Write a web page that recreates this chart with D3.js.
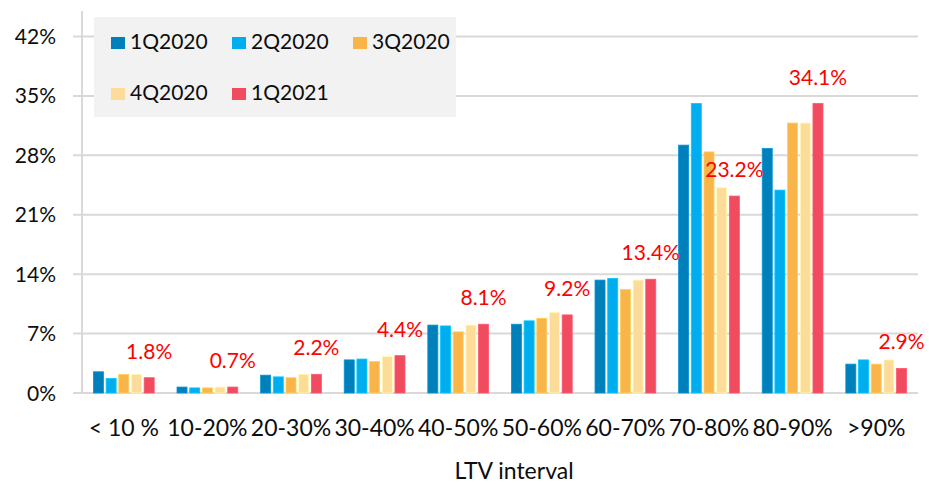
<!DOCTYPE html>
<html lang="en">
<head>
  <meta charset="UTF-8">
  <title>LTV interval</title>
  <script src="https://d3js.org/d3.v7.min.js"></script>
  <style>
    body { margin: 0; background: #ffffff; }
    svg { display: block; font-family: Lato, "Open Sans", sans-serif; }
    .grid line { stroke: #d9d9d9; stroke-width: 2; }
    .tick-label { font-size: 21px; fill: #0d0d0d; }
    .cat-label { font-size: 23px; fill: #0d0d0d; }
    .value-label { font-size: 21px; fill: #ff0000; }
    .legend-text { font-size: 21px; fill: #0d0d0d; }
  </style>
</head>
<body>
<svg width="929" height="484"></svg>

<script>
  const categories = ["< 10 %", "10-20%", "20-30%", "30-40%", "40-50%", "50-60%", "60-70%", "70-80%", "80-90%", ">90%"];
  const seriesNames = ["1Q2020", "2Q2020", "3Q2020", "4Q2020", "1Q2021"];
  const q1_2020 = [2.5, 0.7, 2.1, 3.9, 8.0, 8.1, 13.3, 29.2, 28.8, 3.4];
  const q2_2020 = [1.7, 0.6, 1.9, 4.0, 7.9, 8.5, 13.5, 34.1, 23.9, 3.9];
  const q3_2020 = [2.2, 0.6, 1.8, 3.7, 7.2, 8.8, 12.2, 28.4, 31.8, 3.4];
  const q4_2020 = [2.2, 0.7, 2.2, 4.3, 8.0, 9.5, 13.3, 24.2, 31.8, 3.9];
  const q1_2021 = [1.8, 0.7, 2.2, 4.4, 8.1, 9.2, 13.4, 23.2, 34.1, 2.9];
  const yTicks = [0, 7, 14, 21, 28, 35, 42];
  const colors = ["#0080bb", "#00aeef", "#f9b54a", "#fddb98", "#f04b5f"];

  const seriesValues = [q1_2020, q2_2020, q3_2020, q4_2020, q1_2021];

  const width = 929, height = 484;
  const margin = { top: 11, right: 11, bottom: 91, left: 82 };
  const innerW = width - margin.left - margin.right;
  const innerH = height - margin.top - margin.bottom;

  const svg = d3.select("svg");
  const g = svg.append("g").attr("transform", `translate(${margin.left},${margin.top})`);

  const x0 = d3.scaleBand().domain(categories).range([0, innerW]).padding(0);
  const x1 = d3.scaleBand().domain(seriesNames).range([0, x0.bandwidth()])
    .paddingInner(0.21).paddingOuter(0.9);
  const y = d3.scaleLinear().domain([0, 45]).range([innerH, 0]);

  // gridlines
  const grid = g.append("g").attr("class", "grid");
  grid.selectAll("line.h")
    .data(yTicks)
    .join("line")
    .attr("class", "h")
    .attr("x1", -9)
    .attr("x2", innerW)
    .attr("y1", d => y(d))
    .attr("y2", d => y(d));
  grid.append("line")
    .attr("x1", 0).attr("x2", 0)
    .attr("y1", 0).attr("y2", innerH);

  // y labels
  g.selectAll(".tick-label")
    .data(yTicks)
    .join("text")
    .attr("class", "tick-label")
    .attr("x", -26)
    .attr("y", d => y(d))
    .attr("dy", "0.36em")
    .attr("text-anchor", "end")
    .text(d => d + "%");

  // bars
  const groups = g.selectAll(".group")
    .data(categories)
    .join("g")
    .attr("class", "group")
    .attr("transform", d => `translate(${x0(d)},0)`);

  groups.selectAll("rect")
    .data((c, i) => seriesNames.map((s, j) => ({ s, j, v: seriesValues[j][i] })))
    .join("rect")
    .attr("x", d => x1(d.s))
    .attr("width", x1.bandwidth())
    .attr("y", d => y(d.v))
    .attr("height", d => y(0) - y(d.v))
    .attr("fill", d => colors[d.j])
    .attr("stroke", d => d3.color(colors[d.j]).brighter(0.4))
    .attr("stroke-width", 0.8);

  // value labels on latest quarter
  g.selectAll(".value-label")
    .data(categories)
    .join("text")
    .attr("class", "value-label")
    .attr("x", d => x0(d) + x1("1Q2021") + x1.bandwidth() / 2)
    .attr("y", (d, i) => y(q1_2021[i]) - 19)
    .attr("text-anchor", "middle")
    .text((d, i) => q1_2021[i].toFixed(1) + "%");

  // category labels
  g.selectAll(".cat-label")
    .data(categories)
    .join("text")
    .attr("class", "cat-label")
    .attr("x", d => x0(d) + x0.bandwidth() / 2)
    .attr("y", innerH + 43)
    .attr("text-anchor", "middle")
    .text(d => d);

  svg.append("text")
    .attr("class", "cat-label")
    .attr("x", 514)
    .attr("y", 479)
    .attr("text-anchor", "middle")
    .text("LTV interval");

  // legend
  const legend = svg.append("g").attr("transform", "translate(94,17)");
  legend.append("rect")
    .attr("width", 362)
    .attr("height", 100)
    .attr("fill", "#f2f2f2");

  const legendItems = legend.selectAll(".item")
    .data(seriesNames)
    .join("g")
    .attr("class", "item")
    .attr("transform", (d, i) => `translate(${17 + (i % 3) * 121},${i < 3 ? 20 : 71})`);

  legendItems.append("rect")
    .attr("width", 14)
    .attr("height", 12)
    .attr("fill", (d, i) => colors[i]);

  legendItems.append("text")
    .attr("class", "legend-text")
    .attr("x", 19)
    .attr("y", 12)
    .text(d => d);
</script>
</body>
</html>
